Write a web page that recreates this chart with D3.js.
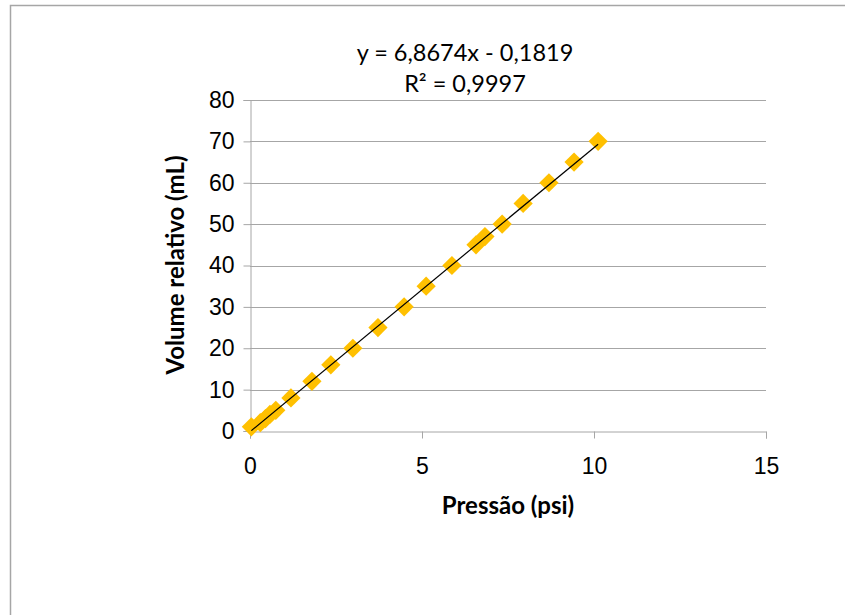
<!DOCTYPE html>
<html>
<head>
<meta charset="utf-8">
<script src="https://cdn.jsdelivr.net/npm/d3@7"></script>
<style>
  html, body { margin: 0; padding: 0; background: #fff; }
  svg { display: block; font-family: Lato, "Open Sans", sans-serif; }
</style>
</head>
<body>
<svg id="chart" width="845" height="615"></svg>
<script>
// pressure (psi) vs relative volume (mL)
const pressao = [0.04, 0.3, 0.45, 0.58, 0.75, 1.19, 1.8, 2.35, 2.99, 3.72, 4.48, 5.12, 5.87, 6.57, 6.83, 7.33, 7.94, 8.69, 9.42, 10.12]
const volume = [1, 2, 3, 4, 5, 8, 12, 16, 20, 25, 30, 35, 40, 45, 47, 50, 55, 60, 65, 70]
const xTicks = [0, 5, 10, 15]
const yTicks = [0, 10, 20, 30, 40, 50, 60, 70, 80]
const slope = 6.8674
const intercept = -0.1819
const eqLines = ['y = 6,8674x - 0,1819', 'R² = 0,9997']

const svg = d3.select('#chart')
const x = d3.scaleLinear().domain([0, 15]).range([250, 766])
const y = d3.scaleLinear().domain([0, 80]).range([431, 100])
const grey = '#a6a6a6'

// outer chart border
svg.append('rect')
  .attr('x', 10.5).attr('y', 5.5)
  .attr('width', 900).attr('height', 700)
  .attr('fill', 'none').attr('stroke', grey).attr('stroke-width', 1.5)

// horizontal gridlines
svg.append('g')
  .selectAll('line')
  .data(yTicks.slice(1))
  .join('line')
  .attr('x1', x(0)).attr('x2', x(15))
  .attr('y1', d => Math.round(y(d)) + 0.5).attr('y2', d => Math.round(y(d)) + 0.5)
  .attr('stroke', grey)

// axes
const xAxis = svg.append('g')
  .attr('transform', `translate(0,${Math.round(y(0)) + 0.5})`)
  .call(d3.axisBottom(x).tickValues(xTicks).tickSize(7).tickPadding(19).tickFormat(d3.format('d')))
const yAxis = svg.append('g')
  .attr('transform', `translate(${Math.round(x(0)) + 0.5},0)`)
  .call(d3.axisLeft(y).tickValues(yTicks).tickSize(7).tickPadding(9).tickFormat(d3.format('d')))
;[xAxis, yAxis].forEach(g => {
  g.select('.domain').attr('stroke', grey)
  g.selectAll('.tick line').attr('stroke', grey)
  g.selectAll('.tick text').attr('fill', '#000').style('font-size', '23px')
})

const xr = d3.extent(pressao)

// diamond markers
svg.append('g')
  .selectAll('path')
  .data(pressao.map((p, i) => [p, volume[i]]))
  .join('path')
  .attr('d', d3.symbol(d3.symbolSquare, 185))
  .attr('transform', d => `translate(${x(d[0])},${y(d[1])}) rotate(45)`)
  .attr('fill', '#ffc000')

// linear trendline over the data range, on top of markers
svg.append('line')
  .attr('x1', x(xr[0])).attr('y1', y(slope * xr[0] + intercept))
  .attr('x2', x(xr[1])).attr('y2', y(slope * xr[1] + intercept))
  .attr('stroke', '#000').attr('stroke-width', 1.2)

// trendline label
svg.append('g')
  .selectAll('text')
  .data(eqLines)
  .join('text')
  .attr('x', 465).attr('y', (d, i) => 61 + i * 31)
  .attr('text-anchor', 'middle')
  .style('font-size', '23.5px')
  .text(d => d)

// axis titles
svg.append('text')
  .attr('transform', 'translate(184,265) rotate(-90)')
  .attr('text-anchor', 'middle')
  .style('font-size', '24px').style('font-weight', 'bold')
  .text('Volume relativo (mL)')
svg.append('text')
  .attr('x', 508).attr('y', 514)
  .attr('text-anchor', 'middle')
  .style('font-size', '24px').style('font-weight', 'bold')
  .text('Pressão (psi)')
</script>
</body>
</html>
